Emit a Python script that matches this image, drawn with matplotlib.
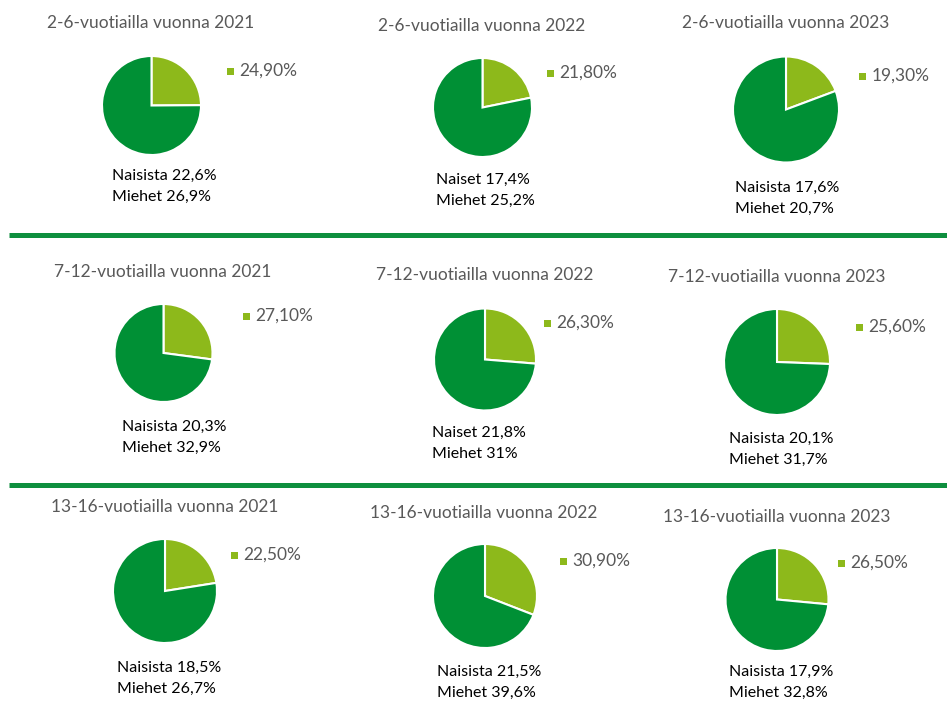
import matplotlib
matplotlib.use("Agg")
import matplotlib.pyplot as plt
from matplotlib.patches import Rectangle

# ---- data ----
age_groups = ["2-6", "7-12", "13-16"]
years = [2021, 2022, 2023]
total_share = [[24.9, 21.8, 19.3],
               [27.1, 26.3, 25.6],
               [22.5, 30.9, 26.5]]
women_word = [["Naisista", "Naiset", "Naisista"],
              ["Naisista", "Naiset", "Naisista"],
              ["Naisista", "Naisista", "Naisista"]]
women_share = [[22.6, 17.4, 17.6],
               [20.3, 21.8, 20.1],
               [18.5, 21.5, 17.9]]
men_share = [[26.9, 25.2, 20.7],
             [32.9, 31.0, 31.7],
             [26.7, 39.6, 32.8]]

# ---- layout (pixels, y from top) ----
W, H = 947, 701
title_pos = [[(151, 23), (482, 26), (786, 23)],
             [(163, 272), (485, 275), (777, 277)],
             [(165, 507), (484, 513), (777, 517)]]
pie_pos = [[(151.5, 105.5, 49.5), (482.5, 107.5, 49.5), (786, 109.5, 53)],
           [(163.5, 353, 49), (485, 359.5, 51), (777, 362, 53)],
           [(165, 591, 52), (485, 596, 52), (777, 599.5, 51.5)]]
legend_pos = [[(230, 71), (550, 73), (862.5, 76)],
              [(246.5, 316), (547, 323), (859, 327)],
              [(234, 555), (563.5, 561), (841.5, 563)]]
text_pos = [[(112, 176), (436, 180), (735, 188)],
            [(122, 427), (432, 433), (729, 439)],
            [(117, 668), (437, 672), (729, 672)]]
sep_y = [235, 485]

DARK = "#009035"
LIGHT = "#8DB91B"
GREY = "#595959"
FONT = "Lato"

def fmt(v, dec=None):
    s = f"{v:.{dec}f}" if dec is not None else f"{v:g}"
    return s.replace(".", ",") + "%"

fig = plt.figure(figsize=(W / 100, H / 100), dpi=100)
ax = fig.add_axes([0, 0, 1, 1])

for i, grp in enumerate(age_groups):
    for j, yr in enumerate(years):
        v = total_share[i][j]
        cx, cy, r = pie_pos[i][j]
        ax.pie([v, 100 - v], colors=[LIGHT, DARK], startangle=90,
               counterclock=False, center=(cx, H - cy), radius=r,
               wedgeprops=dict(edgecolor="white", linewidth=1.5),
               frame=True)
        tx, ty = title_pos[i][j]
        ax.text(tx, H - ty, f"{grp}-vuotiailla vuonna {yr}", ha="center",
                va="center", fontsize=12.5, color=GREY, family=FONT)
        lx, ly = legend_pos[i][j]
        ax.add_patch(Rectangle((lx - 3.5, H - ly - 3.5), 7, 7,
                               facecolor=LIGHT, edgecolor="none"))
        ax.text(lx + 9, H - ly, fmt(v, 2), ha="left", va="center",
                fontsize=12.5, color=GREY, family=FONT)
        bx, by = text_pos[i][j]
        ax.text(bx, H - by, f"{women_word[i][j]} {fmt(women_share[i][j])}",
                ha="left", va="center", fontsize=11.5, color="black",
                family=FONT)
        ax.text(bx, H - by - 20.5, f"Miehet {fmt(men_share[i][j])}",
                ha="left", va="center", fontsize=11.5, color="black",
                family=FONT)

for y in sep_y:
    ax.plot([9, W], [H - y, H - y], color="#0E8F3E", lw=3.6,
            solid_capstyle="butt")

ax.set_xlim(0, W)
ax.set_ylim(0, H)
ax.set_aspect("auto")
ax.axis("off")
fig.savefig("out.png", dpi=100, facecolor="white")
